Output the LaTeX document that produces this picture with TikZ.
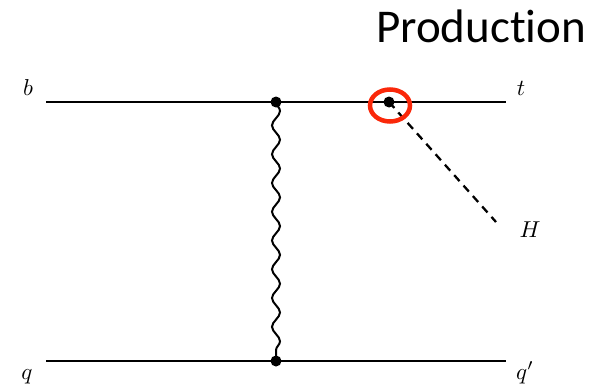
\documentclass[tikz,border=0pt]{standalone}
\usepackage{fontspec}
\newfontfamily\calib[Ligatures={NoCommon}]{Carlito}
\usetikzlibrary{decorations.pathmorphing,shapes.geometric}
\definecolor{markred}{RGB}{250,40,10}
\tikzset{
  fermion/.style={line width=2.8pt},
  boson/.style={line width=2pt, decorate, decoration={snake, segment length=28.78pt, amplitude=4pt}},
  scalar/.style={line width=2.3pt, dash pattern=on 8pt off 6pt},
  vertexdot/.style={circle, fill=black, inner sep=0pt, minimum size=11pt},
  lbl/.style={inner sep=0pt, anchor=base}
}
\newcommand{\biglbl}[1]{\scalebox{2.3}{$#1$}}
\begin{document}
\begin{tikzpicture}[x=1pt,y=-1pt]
\useasboundingbox (0,0) rectangle (600,388);
\coordinate (bstart) at (46,102);
\coordinate (tend) at (506,102);
\coordinate (qstart) at (46,361);
\coordinate (qend) at (506,361);
\coordinate (hend) at (496,222);
\coordinate (p1) at (276,102);
\coordinate (p2) at (389,102);
\coordinate (p3) at (276,361);
\draw[fermion] (bstart) -- (tend);
\draw[fermion] (qstart) -- (qend);
\draw[boson] (p1) -- (p3);
\draw[scalar] (p2) -- (hend);
\node[vertexdot] (v1) at (p1) {};
\node[vertexdot] (v2) at (p2) {};
\node[vertexdot] (v3) at (p3) {};
\node[lbl] (lb) at (28,95) {\biglbl{b}};
\node[lbl] (lt) at (521,95) {\biglbl{t}};
\node[lbl] (lq) at (27,379) {\biglbl{q}};
\node[lbl] (lqp) at (525,379) {\biglbl{q'}};
\node[lbl] (lH) at (530,237) {\biglbl{H}};
\node[ellipse, draw=markred, line width=4.5pt, minimum width=40pt, minimum height=32pt, inner sep=0pt] (circ) at (390,105.5) {};
\node[anchor=base west, inner sep=0pt, font=\calib\fontsize{47}{52}\selectfont] (title) at (376,42) {Production};
\end{tikzpicture}
\end{document}
